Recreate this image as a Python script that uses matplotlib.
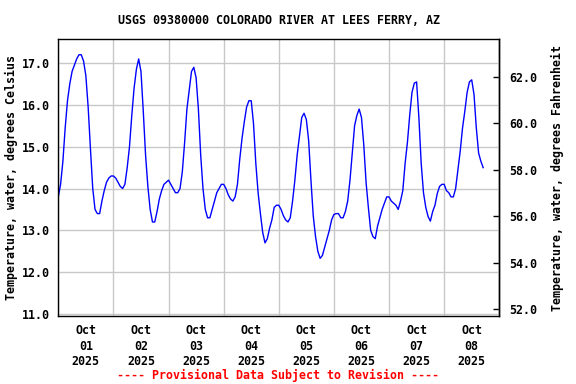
import numpy as np
import pandas as pd
import matplotlib
matplotlib.use('Agg')
import matplotlib.pyplot as plt
import matplotlib.dates as mdates

# hourly water temperature (deg C), starting 2025-10-01 00:00
start = pd.Timestamp('2025-10-01 00:00')
temp_day1 = [13.8, 14.1, 14.65, 15.45, 16.1, 16.5, 16.8, 16.95, 17.1, 17.2, 17.2, 17.05,
             16.7, 15.95, 14.95, 14.0, 13.5, 13.4, 13.4, 13.7, 13.95, 14.15, 14.25, 14.3]
temp_day2 = [14.3, 14.25, 14.15, 14.05, 14.0, 14.1, 14.5, 15.0, 15.75, 16.4, 16.85, 17.1,
             16.8, 15.85, 14.8, 14.05, 13.5, 13.2, 13.2, 13.45, 13.75, 13.95, 14.1, 14.15]
temp_day3 = [14.2, 14.1, 14.0, 13.9, 13.9, 14.0, 14.4, 15.1, 15.9, 16.35, 16.8, 16.9,
             16.65, 15.9, 14.8, 14.0, 13.5, 13.3, 13.3, 13.5, 13.7, 13.9, 14.0, 14.1]
temp_day4 = [14.1, 14.0, 13.85, 13.75, 13.7, 13.8, 14.1, 14.7, 15.2, 15.6, 15.95, 16.1,
             16.1, 15.55, 14.6, 13.9, 13.4, 12.95, 12.7, 12.8, 13.05, 13.25, 13.55, 13.6]
temp_day5 = [13.6, 13.5, 13.35, 13.25, 13.2, 13.3, 13.7, 14.2, 14.8, 15.25, 15.7, 15.8,
             15.65, 15.15, 14.2, 13.35, 12.85, 12.5, 12.33, 12.4, 12.6, 12.8, 13.0, 13.25]
temp_day6 = [13.38, 13.4, 13.4, 13.3, 13.3, 13.45, 13.7, 14.2, 14.85, 15.5, 15.75, 15.9,
             15.7, 15.05, 14.15, 13.55, 13.0, 12.85, 12.8, 13.1, 13.3, 13.5, 13.65, 13.8]
temp_day7 = [13.8, 13.7, 13.65, 13.6, 13.5, 13.7, 13.95, 14.6, 15.1, 15.75, 16.3, 16.52,
             16.55, 15.7, 14.6, 13.9, 13.55, 13.33, 13.22, 13.45, 13.6, 13.88, 14.05, 14.1]
temp_day8 = [14.1, 13.95, 13.9, 13.8, 13.8, 14.0, 14.45, 14.9, 15.45, 15.85, 16.3, 16.55,
             16.6, 16.25, 15.45, 14.85, 14.65, 14.5]

temps = np.array(temp_day1 + temp_day2 + temp_day3 + temp_day4 +
                 temp_day5 + temp_day6 + temp_day7 + temp_day8)
times = start + pd.to_timedelta(np.arange(len(temps)), unit='h')

c_ticks = [11.0, 12.0, 13.0, 14.0, 15.0, 16.0, 17.0]
f_ticks = [52.0, 54.0, 56.0, 58.0, 60.0, 62.0]

font = 'DejaVu Sans Mono'
fs = 8.4
grid_col = '#c8c8c8'

fig = plt.figure(figsize=(5.76, 3.84), dpi=100)
ax = fig.add_axes([0.1012, 0.177, 0.7656, 0.7207])

ax.plot(times, temps, color='#0000ff', linewidth=1.0)

ax.set_xlim(start, start + pd.Timedelta(days=8))
ax.set_ylim(10.95, 17.57)

ax.set_yticks(c_ticks)
ax.set_yticklabels(['%.1f' % v for v in c_ticks], fontfamily=font, fontweight='bold', fontsize=fs)
ax.tick_params(axis='y', length=0, pad=6)

# gridlines at midnight, labels at noon
ax.xaxis.set_major_locator(mdates.DayLocator())
ax.xaxis.set_major_formatter(plt.NullFormatter())
ax.xaxis.set_minor_locator(mdates.HourLocator(byhour=[12]))
ax.xaxis.set_minor_formatter(mdates.DateFormatter('%b\n%d\n%Y'))
ax.tick_params(axis='x', which='both', length=0, pad=6)
for lab in ax.xaxis.get_minorticklabels():
    lab.set_fontfamily(font)
    lab.set_fontweight('bold')
    lab.set_fontsize(fs)
    lab.set_linespacing(1.25)

ax.grid(True, which='major', color=grid_col, linewidth=1.0)
ax.set_axisbelow(True)
for s in ax.spines.values():
    s.set_linewidth(1.0)
    s.set_color('black')

ax.set_ylabel('Temperature, water, degrees Celsius', fontfamily=font, fontweight='bold',
              fontsize=fs, labelpad=2.5)

# Fahrenheit axis on the right
sec = ax.secondary_yaxis('right', functions=(lambda c: c * 9 / 5 + 32, lambda f: (f - 32) * 5 / 9))
sec.set_yticks(f_ticks)
sec.set_yticklabels(['%.1f' % v for v in f_ticks], fontfamily=font, fontweight='bold', fontsize=fs)
sec.tick_params(axis='y', direction='in', length=4, width=1.0, pad=7)
sec.spines['right'].set_linewidth(1.0)
sec.set_ylabel('Temperature, water, degrees Fahrenheit', fontfamily=font, fontweight='bold',
               fontsize=fs, labelpad=10)

fig.text(0.484, 1 - 20 / 384, 'USGS 09380000 COLORADO RIVER AT LEES FERRY, AZ',
         ha='center', va='center', fontfamily=font, fontweight='bold', fontsize=fs)
fig.text(0.482, 1 - 375 / 384, '---- Provisional Data Subject to Revision ----',
         ha='center', va='center', fontfamily=font, fontweight='bold', fontsize=fs, color='red')

fig.savefig('out.png', dpi=100)
